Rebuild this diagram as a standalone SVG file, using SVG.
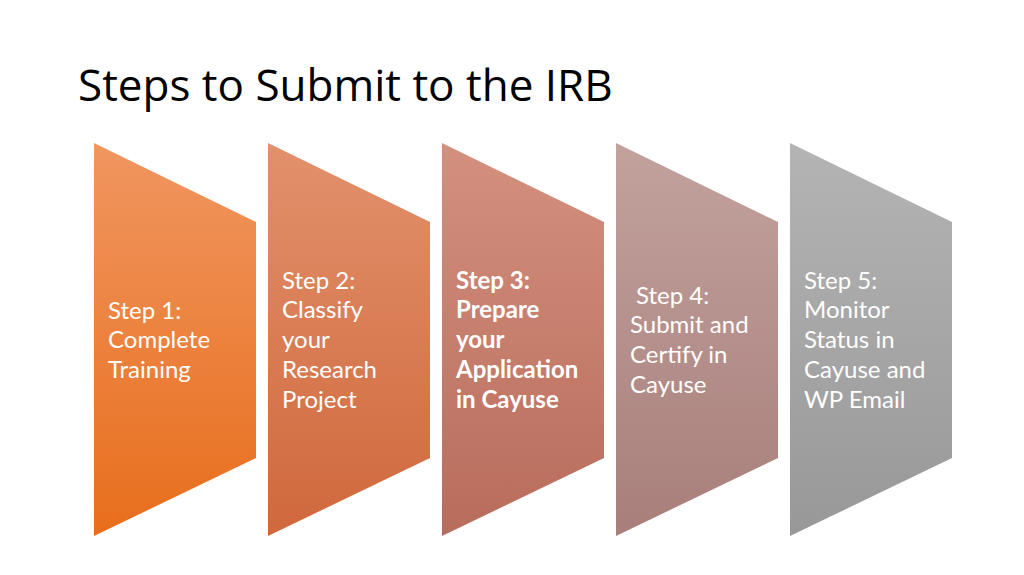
<svg xmlns="http://www.w3.org/2000/svg" width="1024" height="575" viewBox="0 0 1024 575">
<style>
.t{font-family:Lato,"Open Sans",sans-serif;font-size:24px;fill:#fff}
.b{font-weight:bold}
</style>
<defs>
<linearGradient id="g1" x1="0" y1="0" x2="0" y2="1"><stop offset="0" stop-color="#F09660"/><stop offset="1" stop-color="#E86E1C"/></linearGradient>
<linearGradient id="g2" x1="0" y1="0" x2="0" y2="1"><stop offset="0" stop-color="#E2916C"/><stop offset="1" stop-color="#D0683C"/></linearGradient>
<linearGradient id="g3" x1="0" y1="0" x2="0" y2="1"><stop offset="0" stop-color="#D4907E"/><stop offset="1" stop-color="#B86C5C"/></linearGradient>
<linearGradient id="g4" x1="0" y1="0" x2="0" y2="1"><stop offset="0" stop-color="#C2A29E"/><stop offset="1" stop-color="#A87E7A"/></linearGradient>
<linearGradient id="g5" x1="0" y1="0" x2="0" y2="1"><stop offset="0" stop-color="#B4B4B4"/><stop offset="1" stop-color="#989898"/></linearGradient>
</defs>
<rect width="1024" height="575" fill="#fff"/>
<text x="78" y="101" style="font-family:'Open Sans','Noto Sans',sans-serif;font-size:44px;fill:#000">Steps to Submit to the IRB</text>
<g id="connectors"></g>
<g id="step1"><polygon points="94,143 256,222 256,458 94,536" fill="url(#g1)"/>
<text class="t" x="108" y="319">Step 1:</text><text class="t" x="108" y="348">Complete</text><text class="t" x="108" y="378">Training</text></g>
<g id="step2"><polygon points="268,143 430,222 430,458 268,536" fill="url(#g2)"/>
<text class="t" x="282" y="289">Step 2:</text><text class="t" x="282" y="318">Classify</text><text class="t" x="282" y="348">your</text><text class="t" x="282" y="378">Research</text><text class="t" x="282" y="408">Project</text></g>
<g id="step3"><polygon points="442,143 604,222 604,458 442,536" fill="url(#g3)"/>
<text class="t b" x="456" y="289">Step 3:</text><text class="t b" x="456" y="318">Prepare</text><text class="t b" x="456" y="348">your</text><text class="t b" x="456" y="378">Application</text><text class="t b" x="456" y="408">in Cayuse</text></g>
<g id="step4"><polygon points="616,143 778,222 778,458 616,536" fill="url(#g4)"/>
<text class="t" x="636" y="304">Step 4:</text><text class="t" x="630" y="333">Submit and</text><text class="t" x="630" y="363">Certify in</text><text class="t" x="630" y="393">Cayuse</text></g>
<g id="step5"><polygon points="790,143 952,222 952,458 790,536" fill="url(#g5)"/>
<text class="t" x="804" y="289">Step 5:</text><text class="t" x="804" y="318">Monitor</text><text class="t" x="804" y="348">Status in</text><text class="t" x="804" y="378">Cayuse and</text><text class="t" x="804" y="408">WP Email</text></g>
</svg>
